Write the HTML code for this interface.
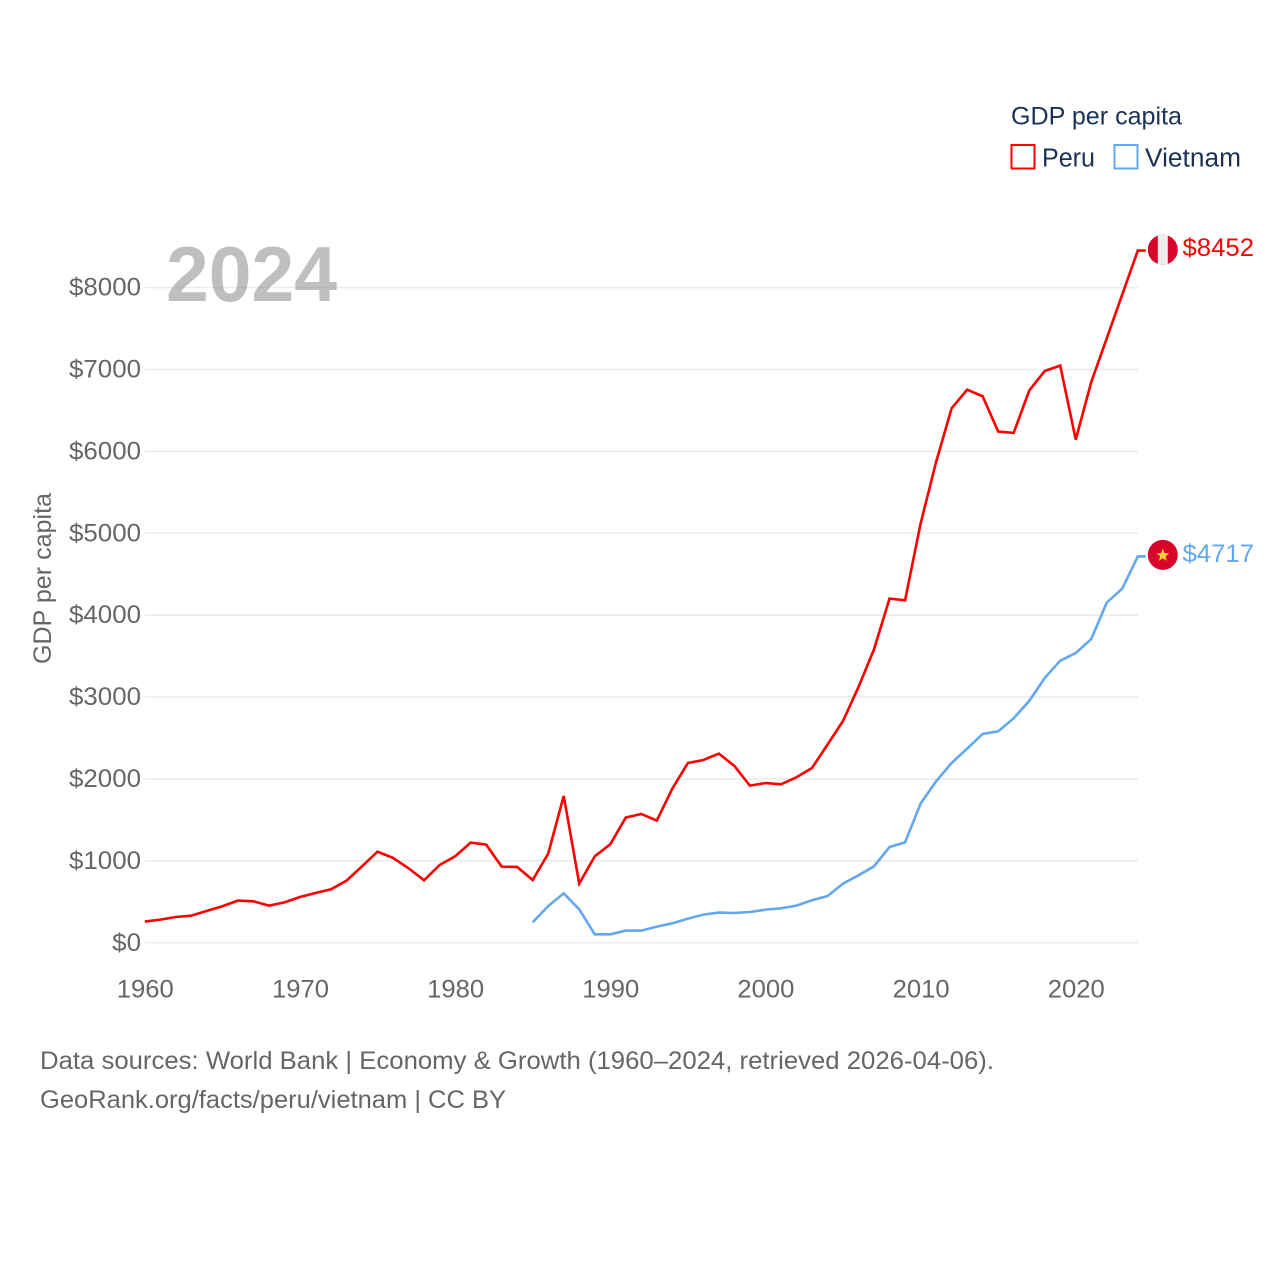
<!DOCTYPE html>
<html lang="en">
<head>
<meta charset="utf-8">
<title>GDP per capita: Peru and Vietnam</title>
<style>
html,body{margin:0;padding:0;background:#fff;width:1280px;height:1280px;overflow:hidden}
svg{display:block}
text{font-family:"Liberation Sans",sans-serif}
</style>
</head>
<body>
<svg id="chart" width="1280" height="1280" viewBox="0 0 1280 1280" xmlns="http://www.w3.org/2000/svg">
  <rect width="1280" height="1280" fill="#ffffff"/>
  <g id="grid"></g>
  <text x="166" y="301" font-size="78" font-weight="700" fill="#808080" fill-opacity="0.5" textLength="171" lengthAdjust="spacingAndGlyphs">2024</text>
  <g id="yticks"></g>
  <g id="xticks"></g>
  <text transform="translate(51,664) rotate(-90)" font-size="25" fill="#666666" textLength="171" lengthAdjust="spacingAndGlyphs">GDP per capita</text>
  <g id="series"></g>
  <g id="ends"></g>
  <g>
    <text x="1011" y="124.500" font-size="25" fill="#1a3355" textLength="171" lengthAdjust="spacingAndGlyphs">GDP per capita</text>
    <g>
      <rect x="1011.5" y="145" width="23" height="23.500" fill="none" stroke="#ff0000" stroke-width="2"/>
      <text x="1042" y="166.500" font-size="25.500" fill="#1a3355" textLength="53" lengthAdjust="spacingAndGlyphs">Peru</text>
    </g>
    <g>
      <rect x="1114.5" y="145" width="23" height="23.500" fill="none" stroke="#63a8ee" stroke-width="2"/>
      <text x="1145" y="166.500" font-size="25.500" fill="#1a3355" textLength="96" lengthAdjust="spacingAndGlyphs">Vietnam</text>
    </g>
  </g>
  <g>
    <text x="40" y="1069" font-size="25" fill="#666666" textLength="954" lengthAdjust="spacingAndGlyphs">Data sources: World Bank | Economy &amp; Growth (1960–2024, retrieved 2026-04-06).</text>
    <text x="40" y="1108" font-size="25" fill="#666666" textLength="466" lengthAdjust="spacingAndGlyphs">GeoRank.org/facts/peru/vietnam | CC BY</text>
  </g>
</svg>
<script>
const yTickValues = [0, 1000, 2000, 3000, 4000, 5000, 6000, 7000, 8000];
const xTickYears = [1960, 1970, 1980, 1990, 2000, 2010, 2020];
const peruStartYear = 1960;
const peruValues = [259, 283, 315, 332, 390, 446, 515, 507, 454, 494, 559, 608, 653, 759, 934, 1113, 1036, 910, 763, 950, 1056, 1223, 1199, 930, 926, 767, 1089, 1793, 723, 1056, 1203, 1529, 1573, 1492, 1883, 2195, 2232, 2310, 2159, 1919, 1951, 1935, 2021, 2134, 2420, 2708, 3124, 3584, 4203, 4182, 5118, 5871, 6526, 6754, 6673, 6242, 6226, 6742, 6982, 7048, 6144, 6847, 7381, 7917, 8452];
const vietnamStartYear = 1985;
const vietnamValues = [250, 449, 604, 409, 104, 104, 149, 149, 198, 238, 295, 344, 369, 364, 376, 405, 421, 454, 519, 571, 723, 824, 934, 1170, 1227, 1699, 1972, 2195, 2371, 2550, 2582, 2741, 2952, 3233, 3445, 3538, 3709, 4154, 4325, 4717];

const NS = 'http://www.w3.org/2000/svg';
const xScale = year => 144.8 + (year - 1960) * (1137.8 - 144.8) / 64;
const yScale = value => 942.8 - value * (942.8 - 287.6) / 8000;

function make(tag, attrs, parent) {
  const el = document.createElementNS(NS, tag);
  for (const k in attrs) el.setAttribute(k, attrs[k]);
  parent.appendChild(el);
  return el;
}

const grid = document.getElementById('grid');
const yticks = document.getElementById('yticks');
const xticks = document.getElementById('xticks');
const series = document.getElementById('series');
const ends = document.getElementById('ends');

yTickValues.forEach(v => {
  const line = make('line', {x1: 145, x2: 1138, y1: yScale(v), y2: yScale(v), stroke: '#ebebeb', 'stroke-width': 1.5}, grid);
  
  
  const label = '$' + v;
  const t = make('text', {x: 141, y: yScale(v) + 8, 'text-anchor': 'end', 'font-size': 25, fill: '#666666', textLength: 14.4 * label.length, lengthAdjust: 'spacingAndGlyphs'}, yticks);
  t.textContent = label;
  
  
});

xTickYears.forEach(yr => {
  const t = make('text', {x: xScale(yr) + 0.5, y: 997.5, 'text-anchor': 'middle', 'font-size': 25, fill: '#666666', textLength: 57, lengthAdjust: 'spacingAndGlyphs'}, xticks);
  t.textContent = String(yr);
  
  
});

function drawSeries(values, startYear, color, seriesKey) {
  const pts = values.map((v, i) => xScale(startYear + i).toFixed(2) + ',' + yScale(v).toFixed(2));
  const lastV = values[values.length - 1];
  pts.push((xScale(startYear + values.length - 1) + 8).toFixed(2) + ',' + yScale(lastV).toFixed(2));
  const line = make('polyline', {points: pts.join(' '), fill: 'none', stroke: color, 'stroke-width': 2.6, 'stroke-linejoin': 'miter'}, series);
  
  line.setAttribute('data-series', seriesKey);
  
  const t = make('text', {x: 1182.5, y: yScale(lastV) + 5.5, 'font-size': 25, fill: color, textLength: 71.5, lengthAdjust: 'spacingAndGlyphs'}, ends);
  t.textContent = '$' + lastV;
  
  t.setAttribute('data-series', seriesKey);
  
}
drawSeries(peruValues, peruStartYear, '#ff0000', 'peru');
drawSeries(vietnamValues, vietnamStartYear, '#63a8ee', 'vietnam');

/* flags */
const peruY = yScale(peruValues[peruValues.length - 1]) - 0.8;
const vietY = yScale(vietnamValues[vietnamValues.length - 1]) - 1.6;
const cx = 1162.8, r = 15;

const peruFlag = make('g', {}, ends);


make('circle', {cx: cx, cy: peruY, r: r, fill: '#d90429'}, peruFlag);
const clip = make('clipPath', {id: 'peru-clip'}, peruFlag);
make('circle', {cx: cx, cy: peruY, r: r}, clip);
make('rect', {x: cx - 5, y: peruY - r, width: 10, height: 2 * r, fill: '#eeeeee', 'clip-path': 'url(#peru-clip)'}, peruFlag);

const vietFlag = make('g', {}, ends);


make('circle', {cx: cx, cy: vietY, r: r, fill: '#d90429'}, vietFlag);
const star = [];
for (let i = 0; i < 10; i++) {
  const rad = i % 2 ? 2.8 : 6.8;
  const a = -Math.PI / 2 + i * Math.PI / 5;
  star.push((cx + rad * Math.cos(a)).toFixed(2) + ',' + (vietY + 0.5 + rad * Math.sin(a)).toFixed(2));
}
make('polygon', {points: star.join(' '), fill: '#ffd23f'}, vietFlag);
</script>
</body>
</html>
